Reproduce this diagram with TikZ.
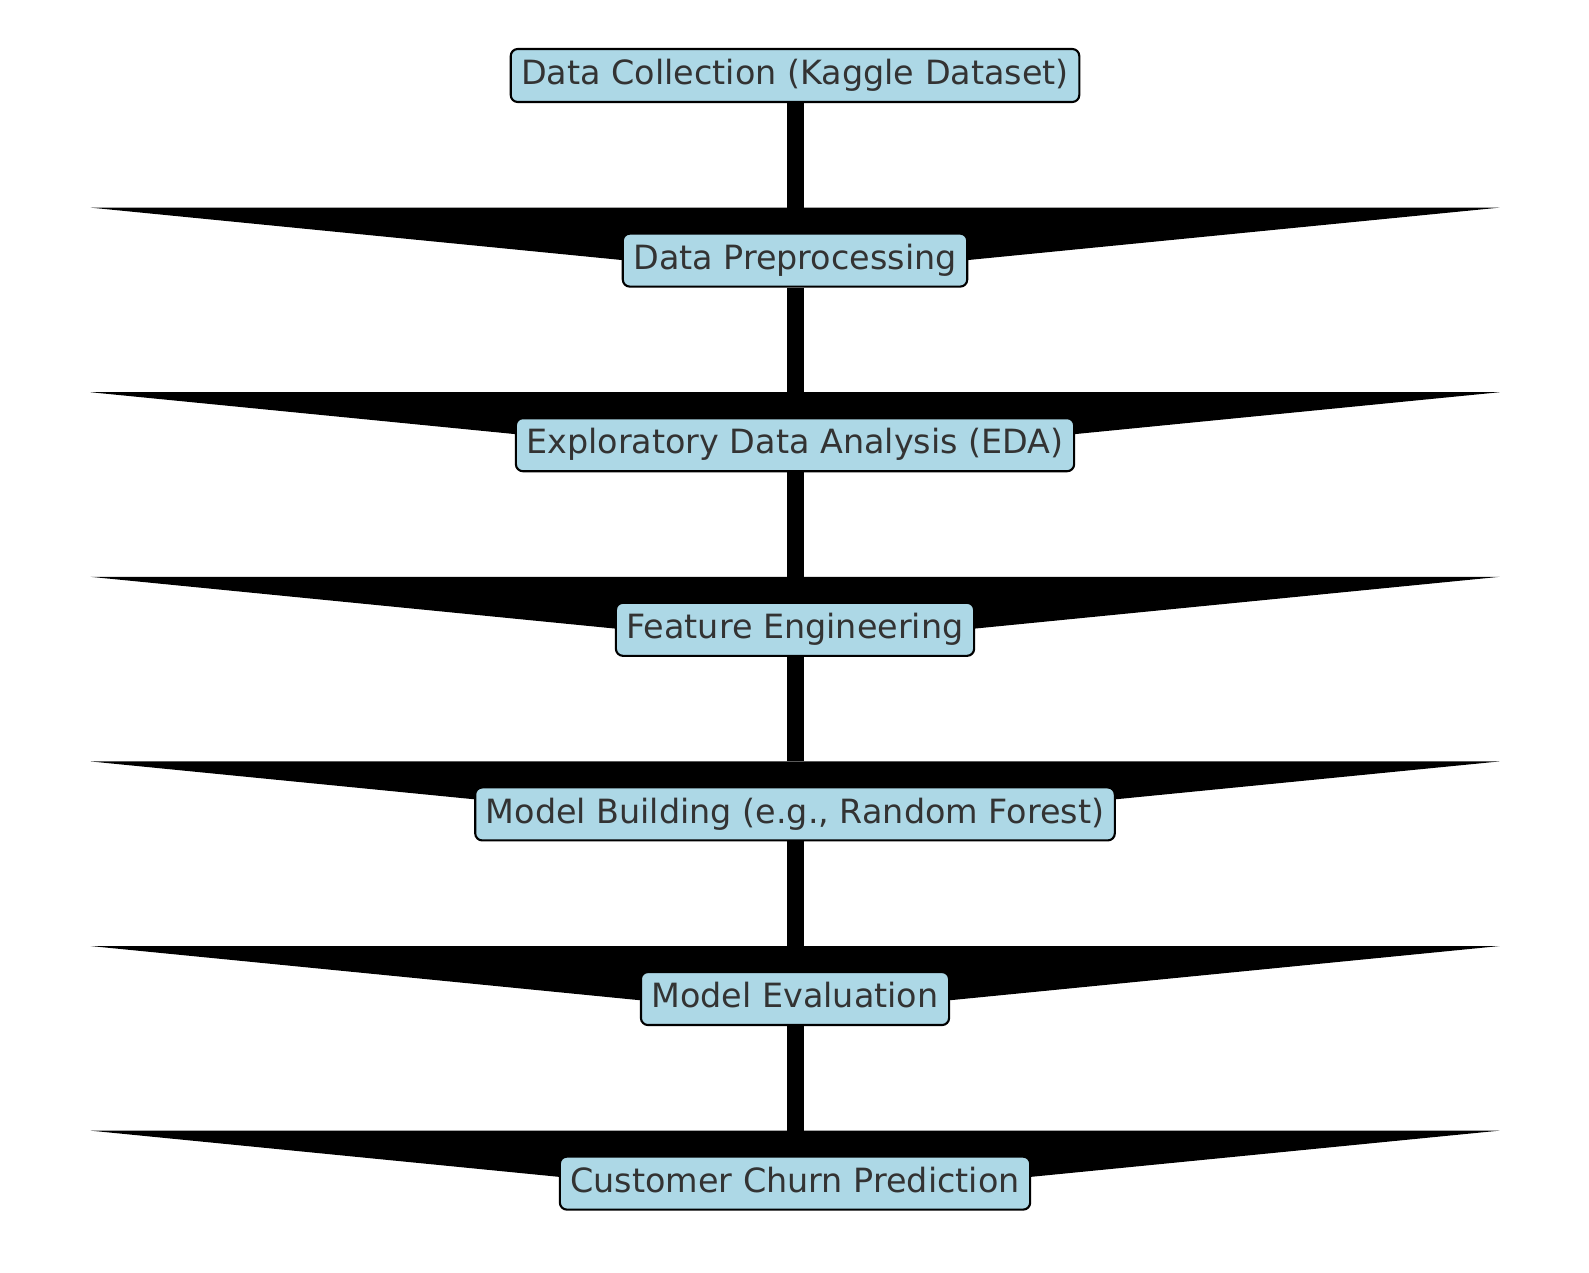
\documentclass[tikz,border=0pt]{standalone}
\usepackage{fontspec}
\setmainfont{DejaVu Sans}
\usetikzlibrary{arrows.meta,calc,backgrounds}
\definecolor{boxblue}{HTML}{ADD8E6}
\definecolor{labelgray}{HTML}{333333}

\begin{document}
\begin{tikzpicture}[
    stagebox/.style={draw=black, line width=0.6pt, fill=boxblue, rounded corners=2pt,
        text=labelgray, font=\fontsize{9.5}{11}\selectfont, inner xsep=0.3em, inner ysep=0pt,
        minimum height=0.53cm, text height=0.76em, text depth=0.24em},
    flow/.style={line width=0.17cm, -{Triangle[width=14.09cm, length=0.695cm, line width=0pt]}}
]
\useasboundingbox (0,0) rectangle (15.89,-12.72);

% Fasi
\node[stagebox] (collect) at (7.95,-0.755) {Data Collection (Kaggle Dataset)};
\node[stagebox] (prep) at (7.95,-2.601) {Data Preprocessing};
\node[stagebox] (eda) at (7.95,-4.447) {Exploratory Data Analysis (EDA)};
\node[stagebox] (feat) at (7.95,-6.293) {Feature Engineering};
\node[stagebox] (build) at (7.95,-8.139) {Model Building (e.g., Random Forest)};
\node[stagebox] (eval) at (7.95,-9.985) {Model Evaluation};
\node[stagebox] (churn) at (7.95,-11.831) {Customer Churn Prediction};

% Frecce
\begin{scope}[on background layer]
\draw[flow] (collect) -- ($(prep)+(0,-0.17)$);
\draw[flow] (prep) -- ($(eda)+(0,-0.17)$);
\draw[flow] (eda) -- ($(feat)+(0,-0.17)$);
\draw[flow] (feat) -- ($(build)+(0,-0.17)$);
\draw[flow] (build) -- ($(eval)+(0,-0.17)$);
\draw[flow] (eval) -- ($(churn)+(0,-0.17)$);
\end{scope}
\end{tikzpicture}
\end{document}
